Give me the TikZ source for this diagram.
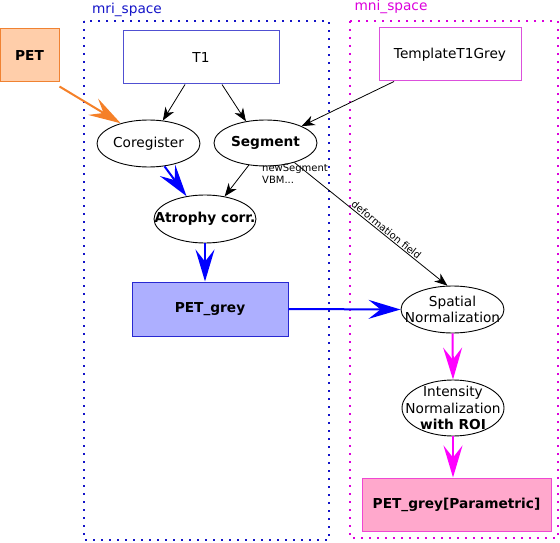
\documentclass[tikz,border=0pt]{standalone}
\usepackage{fontspec}
\setmainfont{DejaVu Sans}
\usetikzlibrary{shapes.geometric,arrows.meta}
\definecolor{petfill}{RGB}{255,206,170}
\definecolor{petborder}{RGB}{240,130,50}
\definecolor{tone}{RGB}{80,80,210}
\definecolor{tmpl}{RGB}{220,80,220}
\definecolor{greyfill}{RGB}{173,175,255}
\definecolor{greyborder}{RGB}{40,40,210}
\definecolor{parfill}{RGB}{255,168,204}
\definecolor{parborder}{RGB}{240,70,210}
\definecolor{orarrow}{RGB}{245,128,40}
\definecolor{bluearrow}{RGB}{0,0,255}
\definecolor{magarrow}{RGB}{255,0,255}
\definecolor{mridots}{RGB}{20,20,200}
\definecolor{mnidots}{RGB}{220,0,220}
\newcommand{\mainfs}{\fontsize{13.7}{16.5}\selectfont}
\newcommand{\smallfs}{\fontsize{10}{12}\selectfont}
\begin{document}
\begin{tikzpicture}[x=1pt,y=-1pt,
  boxnode/.style={rectangle, draw, line width=1pt, inner sep=0pt, font=\mainfs},
  ell/.style={ellipse, draw, line width=0.9pt, inner sep=0pt, minimum width=103pt, minimum height=47pt},
  lbl/.style={align=center, font=\mainfs, inner sep=0pt},
  cluster/.style={line width=2pt, dash pattern=on 2pt off 6pt},
  thinarrow/.style={line width=0.8pt, -{Stealth[length=13pt,width=10pt,inset=4pt]}},
  bigarrow/.style={line width=2pt, -{Stealth[length=32pt,width=19pt,inset=12pt]}}
]
\useasboundingbox (0,0) rectangle (560,543);

% clusters
\draw[cluster, mridots] (84,21) rectangle (329,540);
\draw[cluster, mnidots] (350,21) rectangle (558,538);
\node[font=\mainfs, text=mridots, inner sep=0pt] (mrilabel) at (127,10) {mri\_space};
\node[font=\mainfs, text=mnidots, inner sep=0pt] (mnilabel) at (391,7) {mni\_space};

% boxes
\node[boxnode, draw=petborder, fill=petfill, minimum width=59pt, minimum height=53pt, font=\mainfs\bfseries] (PET) at (29.5,55.5) {PET};
\node[boxnode, draw=tone, minimum width=156pt, minimum height=53pt] (T1) at (201,57.5) {T1};
\node[boxnode, draw=tmpl, minimum width=142pt, minimum height=53pt] (Tmpl) at (450,54.5) {TemplateT1Grey};
\node[boxnode, draw=greyborder, fill=greyfill, minimum width=156pt, minimum height=54pt, font=\mainfs\bfseries] (PETgrey) at (210,309) {PET\_grey};
\node[boxnode, draw=parborder, fill=parfill, minimum width=189pt, minimum height=53pt, font=\mainfs\bfseries] (Param) at (456.5,504.5) {PET\_grey[Parametric]};

% ellipses
\node[ell, label={[lbl]center:Coregister}] (Coreg) at (148.5,143.5) {};
\node[ell, minimum height=46pt, label={[lbl, font=\mainfs\bfseries]center:Segment}] (Seg) at (265.5,143) {};
\node[ell, minimum width=102pt, minimum height=48pt, label={[lbl, font=\mainfs\bfseries]center:Atrophy corr.}] (Atro) at (205,219) {};
\node[ell, label={[lbl]center:{Spatial\\Normalization}}] (Spat) at (452.5,309.5) {};
\node[ell, minimum width=102pt, minimum height=56pt, label={[lbl]center:{Intensity\\Normalization\\\textbf{with ROI}}}] (Inten) at (453,408) {};

% edges
\draw[bigarrow, orarrow] ([yshift=-4pt]PET.south east) -- (Coreg.144);
\draw[thinarrow] ([xshift=-16pt]T1.south) -- (Coreg.58);
\draw[thinarrow] ([xshift=21pt]T1.south) -- (Seg.132);
\draw[thinarrow] ([xshift=-56pt]Tmpl.south) -- (Seg.25);
\draw[bigarrow, bluearrow] (Coreg.-55) -- (Atro.129);
\draw[thinarrow] (Seg.-127) -- (Atro.49);
\node[anchor=north west, align=left, font=\smallfs, inner sep=0pt] (segnote) at (262,164) {newSegment\\VBM...};
\draw[thinarrow] (Seg.-34) -- node[sloped, above, pos=0.58, font=\smallfs, inner sep=1pt] (deflabel) {deformation field} (Spat.102);
\draw[bigarrow, bluearrow] (Atro.south) -- (Atro.south |- PETgrey.north);
\draw[bigarrow, bluearrow] (PETgrey.east) -- (Spat.west);
\draw[bigarrow, magarrow] (Spat.south) -- (Inten.north);
\draw[bigarrow, magarrow] (Inten.south) -- (Inten.south |- Param.north);
\end{tikzpicture}
\end{document}
